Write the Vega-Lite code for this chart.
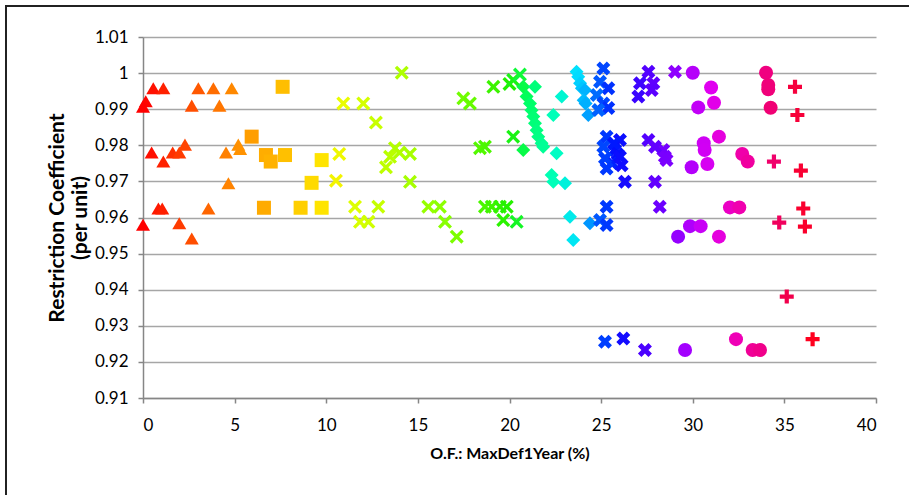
{
  "$schema": "https://vega.github.io/schema/vega-lite/v6.json",
  "width": 733,
  "height": 361,
  "autosize": "none",
  "padding": {"left": 143, "top": 37, "right": 33, "bottom": 97},
  "background": "white",
  "config": {
    "view": {"stroke": null},
    "font": "Lato",
    "axis": {
      "labelFont": "Lato", "labelFontSize": 17, "labelColor": "#000000", "labelOverlap": false,
      "titleFont": "Lato", "titleFontSize": 16, "titleFontWeight": "bold", "titleColor": "#000000",
      "domainColor": "#868686", "domainWidth": 1.5, "tickColor": "#868686", "tickWidth": 1.5, "tickSize": 5,
      "gridColor": "#a6a6a6", "gridWidth": 1.5
    }
  },
  "data": {"values": [
    {"s":"tri","x":0,"y":0.958},{"s":"tri","x":0.56,"y":0.9958},{"s":"tri","x":1.11,"y":0.9958},{"s":"tri","x":3.02,"y":0.9958},{"s":"tri","x":3.84,"y":0.9958},{"s":"tri","x":4.84,"y":0.9958},{"s":"tri","x":0.15,"y":0.9922},{"s":"tri","x":0,"y":0.9907},{"s":"tri","x":2.66,"y":0.991},{"s":"tri","x":4.17,"y":0.991},{"s":"tri","x":0.47,"y":0.978},{"s":"tri","x":1.11,"y":0.9755},{"s":"tri","x":1.62,"y":0.978},{"s":"tri","x":1.98,"y":0.978},{"s":"tri","x":2.29,"y":0.9802},{"s":"tri","x":4.53,"y":0.978},{"s":"tri","x":5.2,"y":0.9802},{"s":"tri","x":5.3,"y":0.979},{"s":"tri","x":4.66,"y":0.9695},{"s":"tri","x":0.84,"y":0.9625},{"s":"tri","x":1.05,"y":0.9625},{"s":"tri","x":3.57,"y":0.9625},{"s":"tri","x":1.98,"y":0.9584},{"s":"tri","x":2.66,"y":0.9542},
    {"s":"sq","x":7.62,"y":0.9962},{"s":"sq","x":5.93,"y":0.9824},{"s":"sq","x":6.71,"y":0.9773},{"s":"sq","x":6.97,"y":0.9755},{"s":"sq","x":7.75,"y":0.9773},{"s":"sq","x":9.75,"y":0.9759},{"s":"sq","x":9.2,"y":0.9696},{"s":"sq","x":6.6,"y":0.9627},{"s":"sq","x":8.6,"y":0.9627},{"s":"sq","x":9.75,"y":0.9627},
    {"s":"x","x":14.12,"y":1.0001},{"s":"x","x":10.93,"y":0.9916},{"s":"x","x":12.02,"y":0.9916},{"s":"x","x":12.71,"y":0.9863},{"s":"x","x":17.48,"y":0.993},{"s":"x","x":17.84,"y":0.9916},{"s":"x","x":10.71,"y":0.9776},{"s":"x","x":10.53,"y":0.9702},{"s":"x","x":13.75,"y":0.9792},{"s":"x","x":13.48,"y":0.9768},{"s":"x","x":13.26,"y":0.9739},{"s":"x","x":14.0,"y":0.978},{"s":"x","x":14.57,"y":0.9776},{"s":"x","x":14.57,"y":0.9699},{"s":"x","x":18.39,"y":0.9792},{"s":"x","x":18.66,"y":0.9796},{"s":"x","x":11.57,"y":0.963},{"s":"x","x":11.84,"y":0.9588},{"s":"x","x":12.3,"y":0.9588},{"s":"x","x":12.84,"y":0.963},{"s":"x","x":15.57,"y":0.963},{"s":"x","x":16.2,"y":0.963},{"s":"x","x":16.48,"y":0.9588},{"s":"x","x":17.12,"y":0.9547},{"s":"x","x":18.66,"y":0.963},{"s":"x","x":19.03,"y":0.963},{"s":"x","x":19.48,"y":0.963},{"s":"x","x":19.85,"y":0.963},{"s":"x","x":19.66,"y":0.9593},{"s":"x","x":20.39,"y":0.9588},{"s":"x","x":19.12,"y":0.9962},{"s":"x","x":20.0,"y":0.997},{"s":"x","x":20.2,"y":0.9981},{"s":"x","x":20.57,"y":0.9996},{"s":"x","x":20.2,"y":0.9824},
    {"s":"dia","x":20.75,"y":0.9962},{"s":"dia","x":21.39,"y":0.9962},{"s":"dia","x":20.93,"y":0.9935},{"s":"dia","x":21.12,"y":0.9916},{"s":"dia","x":21.2,"y":0.9897},{"s":"dia","x":21.3,"y":0.988},{"s":"dia","x":21.39,"y":0.9861},{"s":"dia","x":21.48,"y":0.9842},{"s":"dia","x":21.57,"y":0.9824},{"s":"dia","x":21.75,"y":0.9806},{"s":"dia","x":21.84,"y":0.9796},{"s":"dia","x":20.75,"y":0.9787},{"s":"dia","x":22.85,"y":0.9935},{"s":"dia","x":22.39,"y":0.9884},{"s":"dia","x":22.57,"y":0.9778},{"s":"dia","x":22.3,"y":0.9718},{"s":"dia","x":22.39,"y":0.9699},{"s":"dia","x":23.03,"y":0.9695},{"s":"dia","x":23.3,"y":0.9602},{"s":"dia","x":23.48,"y":0.9538},{"s":"dia","x":23.66,"y":1.0004},{"s":"dia","x":23.75,"y":0.999},{"s":"dia","x":23.85,"y":0.9972},{"s":"dia","x":23.95,"y":0.9958},{"s":"dia","x":24.12,"y":0.9953},{"s":"dia","x":24.05,"y":0.9925},{"s":"dia","x":24.15,"y":0.9916},{"s":"dia","x":24.3,"y":0.9884},{"s":"dia","x":24.39,"y":0.9584},
    {"s":"xb","x":25.12,"y":1.0013},{"s":"xb","x":24.94,"y":0.9976},{"s":"xb","x":25.39,"y":0.9958},{"s":"xb","x":24.76,"y":0.9939},{"s":"xb","x":25.12,"y":0.9916},{"s":"xb","x":25.39,"y":0.9903},{"s":"xb","x":24.85,"y":0.9898},{"s":"xb","x":25.3,"y":0.9824},{"s":"xb","x":26.03,"y":0.9815},{"s":"xb","x":25.12,"y":0.9796},{"s":"xb","x":25.76,"y":0.9787},{"s":"xb","x":25.7,"y":0.9805},{"s":"xb","x":25.9,"y":0.9775},{"s":"xb","x":25.6,"y":0.975},{"s":"xb","x":25.21,"y":0.9764},{"s":"xb","x":26.03,"y":0.9768},{"s":"xb","x":25.3,"y":0.9736},{"s":"xb","x":26.12,"y":0.9745},{"s":"xb","x":26.3,"y":0.9699},{"s":"xb","x":25.3,"y":0.963},{"s":"xb","x":24.94,"y":0.9593},{"s":"xb","x":25.3,"y":0.9579},{"s":"xb","x":27.58,"y":1.0004},{"s":"xb","x":27.12,"y":0.9972},{"s":"xb","x":27.85,"y":0.9972},{"s":"xb","x":27.03,"y":0.9935},{"s":"xb","x":27.76,"y":0.9953},{"s":"xb","x":27.58,"y":0.9815},{"s":"xb","x":28.39,"y":0.9787},{"s":"xb","x":28.57,"y":0.9759},{"s":"xb","x":28.48,"y":0.9768},{"s":"xb","x":27.94,"y":0.9796},{"s":"xb","x":27.94,"y":0.9699},{"s":"xb","x":28.2,"y":0.963},{"s":"xb","x":29.03,"y":1.0004},{"s":"xb","x":25.21,"y":0.9256},{"s":"xb","x":26.21,"y":0.9265},{"s":"xb","x":27.39,"y":0.9233},
    {"s":"cir","x":30.0,"y":1.0001},{"s":"cir","x":31.0,"y":0.996},{"s":"cir","x":30.3,"y":0.9905},{"s":"cir","x":31.16,"y":0.9918},{"s":"cir","x":34.0,"y":1.0001},{"s":"cir","x":34.12,"y":0.9967},{"s":"cir","x":34.12,"y":0.9955},{"s":"cir","x":34.25,"y":0.9904},{"s":"cir","x":31.43,"y":0.9824},{"s":"cir","x":30.6,"y":0.9806},{"s":"cir","x":30.65,"y":0.9787},{"s":"cir","x":30.8,"y":0.9748},{"s":"cir","x":29.94,"y":0.9739},{"s":"cir","x":32.7,"y":0.9776},{"s":"cir","x":33.0,"y":0.9755},{"s":"cir","x":32.03,"y":0.9628},{"s":"cir","x":32.54,"y":0.9628},{"s":"cir","x":29.85,"y":0.9576},{"s":"cir","x":30.43,"y":0.9576},{"s":"cir","x":29.2,"y":0.9547},{"s":"cir","x":31.43,"y":0.9547},{"s":"cir","x":29.58,"y":0.9233},{"s":"cir","x":32.36,"y":0.9263},{"s":"cir","x":33.27,"y":0.9233},{"s":"cir","x":33.67,"y":0.9233},
    {"s":"plus","x":35.58,"y":0.9962},{"s":"plus","x":35.71,"y":0.9884},{"s":"plus","x":34.43,"y":0.9755},{"s":"plus","x":35.9,"y":0.973},{"s":"plus","x":34.72,"y":0.9586},{"s":"plus","x":36.03,"y":0.9625},{"s":"plus","x":36.12,"y":0.9575},{"s":"plus","x":35.13,"y":0.9381},{"s":"plus","x":36.54,"y":0.9263}
  ]},
  "layer": [
    {
      "mark": {"type": "point", "filled": true, "opacity": 1, "strokeWidth": 0},
      "encoding": {
        "x": {"field": "x", "type": "quantitative",
          "scale": {"domain": [0, 40], "nice": false, "zero": false},
          "axis": {"values": [0,5,10,15,20,25,30,35,40], "tickCount": 20, "grid": false, "labelPadding": 14, "title": "O.F.: MaxDef1Year (%)", "titlePadding": 12}},
        "y": {"field": "y", "type": "quantitative",
          "scale": {"domain": [0.91, 1.01], "nice": false, "zero": false},
          "axis": {"values": [0.91,0.92,0.93,0.94,0.95,0.96,0.97,0.98,0.99,1,1.01], "tickCount": 20, "format": ".2~f", "labelPadding": 10, "title": ["Restriction Coefficient", "(per unit)"], "titleFontSize": 21, "titlePadding": 4, "titleLineHeight": 23}},
        "color": {"field": "x", "type": "quantitative", "legend": null,
          "scale": {"interpolate": "rgb",
            "domain": [0, 2.5, 5, 7.5, 10, 11, 14, 17, 20, 21, 22.5, 23.7, 24.3, 25, 25.8, 27.5, 28.5, 29.5, 31, 32.5, 34, 35, 36.5],
            "range": ["#ff0000", "#ff4a00", "#ff8c00", "#ffbc00", "#ffe800", "#e8ff00", "#b0ff00", "#80ff00", "#20f000", "#00ff60", "#00ffc0", "#00e0ff", "#00a0ff", "#0050ff", "#0010ff", "#5000ff", "#7a00ff", "#a000ff", "#e000f0", "#f000b0", "#f00080", "#f00050", "#ff0020"]}},
        "shape": {"field": "s", "type": "nominal", "legend": null,
          "scale": {"domain": ["tri","sq","x","dia","xb","cir","plus"],
            "range": ["triangle-up", "square", "M-1,-0.66L-0.66,-1L0,-0.34L0.66,-1L1,-0.66L0.34,0L1,0.66L0.66,1L0,0.34L-0.66,1L-1,0.66L-0.34,0Z", "diamond", "M-1,-0.5L-0.5,-1L0,-0.5L0.5,-1L1,-0.5L0.5,0L1,0.5L0.5,1L0,0.5L-0.5,1L-1,0.5L-0.5,0Z", "circle", "M-0.3,-1L0.3,-1L0.3,-0.3L1,-0.3L1,0.3L0.3,0.3L0.3,1L-0.3,1L-0.3,0.3L-1,0.3L-1,-0.3L-0.3,-0.3Z"]}},
        "size": {"field": "s", "type": "ordinal", "legend": null,
          "scale": {"domain": ["tri","sq","x","dia","xb","cir","plus"], "range": [196, 196, 420, 144, 400, 169, 361]}}
      }
    },
    {
      "mark": {"type": "rect", "filled": false, "stroke": "#222222", "strokeWidth": 1.5, "clip": false},
      "encoding": {
        "x": {"datum": -7.48, "type": "quantitative"},
        "x2": {"datum": 46},
        "y": {"datum": 1.0186, "type": "quantitative"},
        "y2": {"datum": 0.85}
      }
    }
  ]
}
